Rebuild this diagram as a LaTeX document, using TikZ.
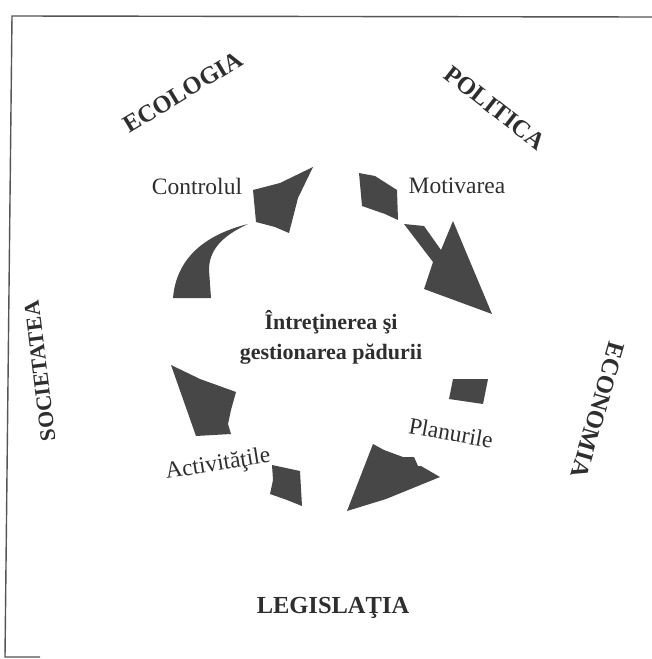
\documentclass[tikz,border=0pt]{standalone}
\usepackage{fontspec}
\setmainfont{Liberation Serif}
\definecolor{shapegray}{HTML}{474747}
\definecolor{ink}{HTML}{2E2E2E}
\definecolor{framegray}{HTML}{555555}
\begin{document}
\begin{tikzpicture}[x=1pt,y=-1pt,
  blob/.style={fill=shapegray,draw=none},
  stagelbl/.style={font=\fontsize{23.5}{26}\selectfont,text=ink,inner sep=0pt},
  topic/.style={font=\bfseries\fontsize{24.5}{28}\selectfont,text=ink,inner sep=0pt},
  core/.style={font=\bfseries\fontsize{22}{30}\selectfont,text=ink,inner sep=0pt,align=center},
  framestyle/.style={draw=framegray,line width=1.4pt}]
\useasboundingbox (0,0) rectangle (652,659);
% frame
\coordinate (ftr) at (652,17);
\coordinate (ftl) at (12,16);
\coordinate (fbl) at (5,657);
\coordinate (fbr) at (40,657);
\draw[framestyle] (ftr) -- (ftl) -- (fbl) -- (fbr);
% Controlul arc
\fill[blob] (173,298) .. controls (176,262) and (200,236) .. (248,224)
  .. controls (222,236) and (209,250) .. (209,270) -- (211,298) -- cycle;
% Controlul block
\fill[blob] (253,190) -- (280,183) -- (313,167) -- (298,198) -- (289,233) -- (275,227) -- (256,222) -- cycle;
% Motivarea block
\fill[blob] (359,173) -- (375,176) -- (397,190) -- (398,220) -- (385,214) -- (362,206) -- cycle;
% Motivarea arrow
\fill[blob] (404,224) -- (424,226) -- (441,250) -- (453,221) -- (492,314) -- (424,289) -- (433,262) -- cycle;
% Planurile block
\fill[blob] (453,379) -- (488,379) -- (483,404) -- (449,399) -- cycle;
% Planurile arrow
\fill[blob] (347,511) -- (373,444) -- (384,450) -- (403,457) -- (414,457) -- (418,466) -- (421,466) -- (440,477) -- (386,499) -- cycle;
% Activitatile upper
\fill[blob] (171,365) -- (200,379) -- (236,392) -- (231,410) -- (228,424) -- (231,434) -- (196,436) -- cycle;
% Activitatile lower
\fill[blob] (272,465) -- (300,471) -- (302,506) -- (287,500) -- (270,494) -- (273,480) -- cycle;
% stage labels
\node[stagelbl] (ctrl) at (197,186) {Controlul};
\node[stagelbl] (motiv) at (457,186) {Motivarea};
\node[stagelbl,rotate=-10] (plan) at (451,433) {Planurile};
\node[stagelbl,rotate=9] (activ) at (218,465) {Activităţile};
% centre
\node[core] (centre) at (331,337) {Întreţinerea şi\\gestionarea pădurii};
% topics
\node[topic,rotate=31] (eco) at (183,92) {ECOLOGIA};
\node[topic,rotate=-38] (pol) at (495,108) {POLITICA};
\node[topic,rotate=-106] (econ) at (598,410) {ECONOMIA};
\node[topic,font=\bfseries\fontsize{22}{25}\selectfont,rotate=97] (soc) at (40,371) {SOCIETATEA};
\node[topic] (leg) at (333,608) {LEGISLAŢIA};
\end{tikzpicture}
\end{document}
